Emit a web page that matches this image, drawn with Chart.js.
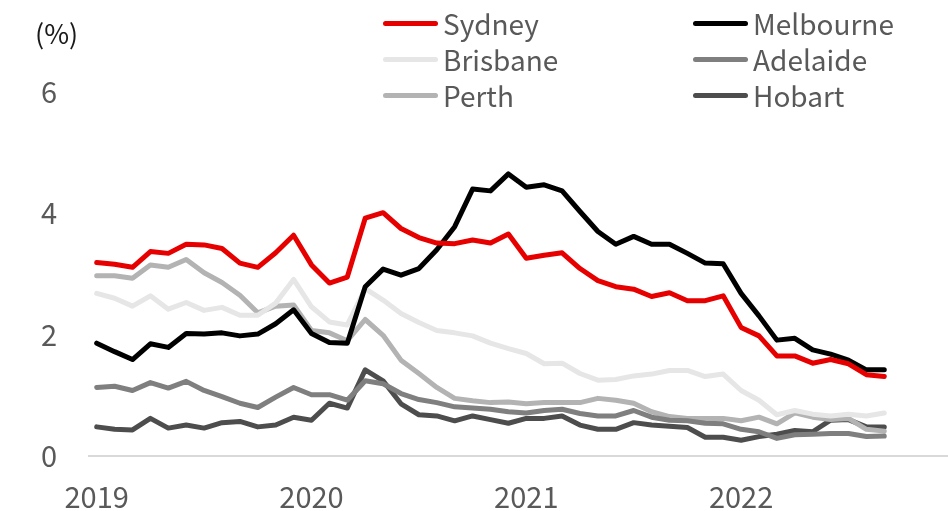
<!DOCTYPE html>
<html>
<head>
<meta charset="utf-8">
<script src="https://cdn.jsdelivr.net/npm/chart.js@4.4.1/dist/chart.umd.min.js"></script>
<style>
  html, body { margin: 0; padding: 0; background: #fff; }
  #wrap { position: relative; width: 948px; height: 511px; font-family: "Noto Sans CJK JP", "Noto Sans", sans-serif; }
  #unit { position: absolute; left: 35px; top: 13px; font-size: 27px; color: #1a1a1a; }
  .item { position: absolute; display: flex; align-items: center; height: 36px; color: #595959; font-size: 28px; }
  .item span.swatch { display: inline-block; width: 55px; height: 5px; border-radius: 3px; margin-right: 5px; }
</style>
</head>
<body>
<div id="wrap">
  <canvas id="lendingChart" width="948" height="511"></canvas>
  <div id="unit">(%)</div>
  <div id="legend"></div>
</div>
<script>
// Monthly series, Jan 2019 to Sep 2022
const months = [
  '2019-01','2019-02','2019-03','2019-04','2019-05','2019-06','2019-07','2019-08','2019-09','2019-10','2019-11','2019-12',
  '2020-01','2020-02','2020-03','2020-04','2020-05','2020-06','2020-07','2020-08','2020-09','2020-10','2020-11','2020-12',
  '2021-01','2021-02','2021-03','2021-04','2021-05','2021-06','2021-07','2021-08','2021-09','2021-10','2021-11','2021-12',
  '2022-01','2022-02','2022-03','2022-04','2022-05','2022-06','2022-07','2022-08','2022-09'
];

const sydney = [3.19,3.16,3.11,3.37,3.34,3.49,3.48,3.42,3.18,3.11,3.35,3.64,3.15,2.85,2.95,
  3.92,4.01,3.75,3.60,3.51,3.50,3.56,3.51,3.66,3.26,3.31,3.35,3.09,2.89,2.79,
  2.75,2.63,2.69,2.56,2.56,2.64,2.12,1.98,1.65,1.65,1.53,1.59,1.52,1.34,1.31];

const melbourne = [1.86,1.72,1.59,1.85,1.79,2.02,2.01,2.03,1.98,2.01,2.18,2.41,2.02,1.87,1.86,
  2.79,3.08,2.98,3.09,3.40,3.78,4.40,4.37,4.65,4.43,4.47,4.37,4.03,3.70,3.49,
  3.62,3.49,3.49,3.34,3.18,3.17,2.68,2.31,1.91,1.94,1.75,1.68,1.58,1.42,1.42];

const brisbane = [2.68,2.60,2.47,2.64,2.42,2.53,2.40,2.45,2.32,2.32,2.52,2.91,2.46,2.21,2.16,
  2.76,2.57,2.35,2.20,2.07,2.03,1.98,1.86,1.77,1.69,1.52,1.53,1.36,1.25,1.26,
  1.32,1.35,1.41,1.41,1.31,1.35,1.08,0.92,0.68,0.75,0.69,0.66,0.69,0.66,0.71];

const adelaide = [1.13,1.15,1.08,1.21,1.12,1.23,1.08,0.98,0.87,0.80,0.97,1.13,1.01,1.01,0.92,
  1.24,1.19,1.03,0.93,0.88,0.81,0.79,0.77,0.73,0.71,0.75,0.77,0.70,0.66,0.66,
  0.75,0.64,0.59,0.58,0.54,0.53,0.44,0.40,0.29,0.35,0.36,0.37,0.37,0.32,0.33];

const perth = [2.97,2.97,2.93,3.15,3.11,3.24,3.02,2.86,2.65,2.36,2.47,2.49,2.07,2.03,1.90,
  2.25,1.99,1.58,1.36,1.13,0.95,0.91,0.88,0.89,0.86,0.88,0.88,0.88,0.95,0.92,
  0.87,0.73,0.65,0.62,0.62,0.62,0.58,0.64,0.53,0.71,0.64,0.60,0.62,0.44,0.41];

const hobart = [0.48,0.44,0.43,0.62,0.46,0.51,0.46,0.55,0.57,0.48,0.51,0.64,0.59,0.87,0.79,
  1.42,1.24,0.86,0.68,0.66,0.58,0.66,0.60,0.54,0.62,0.62,0.66,0.51,0.44,0.44,
  0.55,0.51,0.49,0.47,0.31,0.31,0.26,0.32,0.36,0.42,0.40,0.59,0.60,0.48,0.48];

const yTicks = [0, 2, 4, 6];

const cities = [
  { name: 'Sydney', values: sydney, color: '#e60000' },
  { name: 'Melbourne', values: melbourne, color: '#000000' },
  { name: 'Brisbane', values: brisbane, color: '#e6e6e6' },
  { name: 'Adelaide', values: adelaide, color: '#7f7f7f' },
  { name: 'Perth', values: perth, color: '#b3b3b3' },
  { name: 'Hobart', values: hobart, color: '#4d4d4d' }
];

const tickFont = { family: '"Noto Sans CJK JP", "Noto Sans", sans-serif', size: 29 };

const lendingChart = new Chart(
  document.getElementById('lendingChart'),
  {
    type: 'line',
    data: {
      datasets: cities.map(city => ({
        label: city.name,
        data: city.values.map((v, i) => ({ x: i, y: v })),
        borderColor: city.color,
        backgroundColor: city.color,
        borderWidth: 5,
        borderJoinStyle: 'round',
        borderCapStyle: 'round',
        pointRadius: 0,
        tension: 0
      }))
    },
    options: {
      responsive: false,
      animation: false,
      layout: { padding: { top: 92, right: 0, bottom: 0, left: 0 } },
      plugins: { legend: { display: false }, tooltip: { enabled: false } },
      scales: {
        x: {
          type: 'linear',
          min: -0.43,
          max: 47.56,
          afterBuildTicks: scale => {
            scale.ticks = months
              .map((m, i) => ({ value: i, m }))
              .filter(t => t.m.endsWith('-01'))
              .map(t => ({ value: t.value }));
          },
          afterFit: scale => { scale.height = 55; },
          ticks: {
            autoSkip: false,
            maxRotation: 0,
            padding: 24,
            color: '#595959',
            font: tickFont,
            callback: value => months[value] ? months[value].slice(0, 4) : ''
          },
          grid: { display: false, drawTicks: false },
          border: { display: true, color: '#d9d9d9', width: 2 }
        },
        y: {
          min: 0,
          max: 6,
          afterBuildTicks: scale => { scale.ticks = yTicks.map(v => ({ value: v })); },
          afterFit: scale => { scale.width = 89; },
          ticks: { padding: 32, color: '#595959', font: tickFont },
          grid: { display: false, drawTicks: false },
          border: { display: false }
        }
      }
    }
  }
);

// Two-column legend above the plot
const legendPos = [
  { left: 383, top: 5 }, { left: 693, top: 5 },
  { left: 383, top: 41 }, { left: 693, top: 41 },
  { left: 383, top: 77 }, { left: 693, top: 77 }
];
const legendBox = document.getElementById('legend');
cities.forEach((city, i) => {
  const item = document.createElement('div');
  item.className = 'item';
  item.style.left = legendPos[i].left + 'px';
  item.style.top = legendPos[i].top + 'px';
  item.innerHTML = '<span class="swatch" style="background:' + city.color + '"></span>' + city.name;
  legendBox.appendChild(item);
});
</script>
</body>
</html>
